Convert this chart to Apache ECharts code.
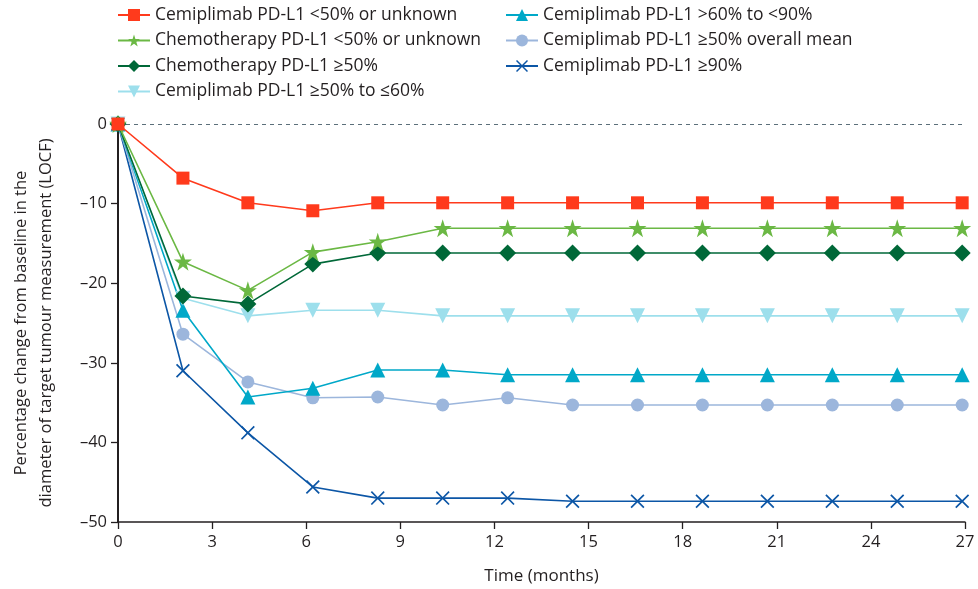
<!DOCTYPE html>
<html>
<head>
<meta charset="utf-8">
<script src="https://cdn.jsdelivr.net/npm/echarts@6/dist/echarts.min.js"></script>
<style>html,body{margin:0;padding:0;background:#fff}#c{width:978px;height:589px}</style>
</head>
<body>
<div id="c"></div>
<script>
var months = [0, 2.07, 4.14, 6.21, 8.28, 10.35, 12.42, 14.49, 16.56, 18.63, 20.7, 22.77, 24.84, 26.91];
var xTicks = [0, 3, 6, 9, 12, 15, 18, 21, 24, 27];
var yTicks = [0, -10, -20, -30, -40, -50];

var cemiLow = [0, -6.8, -9.9, -10.9, -9.9, -9.9, -9.9, -9.9, -9.9, -9.9, -9.9, -9.9, -9.9, -9.9];
var chemoLow = [0, -17.3, -20.9, -16.1, -14.8, -13.1, -13.1, -13.1, -13.1, -13.1, -13.1, -13.1, -13.1, -13.1];
var chemoHigh = [0, -21.6, -22.6, -17.6, -16.2, -16.2, -16.2, -16.2, -16.2, -16.2, -16.2, -16.2, -16.2, -16.2];
var cemi50to60 = [0, -21.9, -24.1, -23.4, -23.4, -24.1, -24.1, -24.1, -24.1, -24.1, -24.1, -24.1, -24.1, -24.1];
var cemi60to90 = [0, -23.4, -34.3, -33.2, -30.9, -30.9, -31.5, -31.5, -31.5, -31.5, -31.5, -31.5, -31.5, -31.5];
var cemiMean = [0, -26.4, -32.4, -34.4, -34.3, -35.3, -34.4, -35.3, -35.3, -35.3, -35.3, -35.3, -35.3, -35.3];
var cemi90 = [0, -31.0, -38.8, -45.6, -47.0, -47.0, -47.0, -47.4, -47.4, -47.4, -47.4, -47.4, -47.4, -47.4];

var names = [
  'Cemiplimab PD-L1 <50% or unknown',
  'Chemotherapy PD-L1 <50% or unknown',
  'Chemotherapy PD-L1 ≥50%',
  'Cemiplimab PD-L1 ≥50% to ≤60%',
  'Cemiplimab PD-L1 >60% to <90%',
  'Cemiplimab PD-L1 ≥50% overall mean',
  'Cemiplimab PD-L1 ≥90%'
];

var starPath = 'path://M50,0 L61.8,35.4 L100,35.4 L69.1,57.3 L80.9,93.5 L50,71.5 L19.1,93.5 L30.9,57.3 L0,35.4 L38.2,35.4 Z';
var crossPath = 'path://M0,1.2 L1.2,0 L7,5.8 L12.8,0 L14,1.2 L8.2,7 L14,12.8 L12.8,14 L7,8.2 L1.2,14 L0,12.8 L5.8,7 Z';

function pairs(arr){ return arr.map(function(v,i){ return [months[i], v]; }); }

var defs = [
  {data: cemiLow, color: '#ff3a1c', symbol: 'rect', size: 13},
  {data: chemoLow, color: '#6bb844', symbol: starPath, size: 18},
  {data: chemoHigh, color: '#006838', symbol: 'diamond', size: 17},
  {data: cemi50to60, color: '#9ddfec', symbol: 'triangle', size: 15, rotate: 180},
  {data: cemi60to90, color: '#00a8c8', symbol: 'triangle', size: 15},
  {data: cemiMean, color: '#9cb6dc', symbol: 'circle', size: 13},
  {data: cemi90, color: '#0c56a6', symbol: crossPath, size: 14}
];

var series = defs.map(function(d, i){
  return {
    name: names[i], type: 'line', data: pairs(d.data),
    symbol: d.symbol, symbolSize: d.size, symbolRotate: d.rotate || 0,
    showAllSymbol: true,
    itemStyle: {color: d.color},
    lineStyle: {color: d.color, width: 1.6},
    z: 10 - i,
    animation: false
  };
});
series[0].markLine = {
  silent: true, symbol: ['none','none'], label: {show: false},
  lineStyle: {type: [4, 4], color: '#5b6f7a', width: 1.2},
  data: [{yAxis: 0}]
};

var fontFam = '"Open Sans", "Noto Sans", sans-serif';
var legendCommon = {
  orient: 'vertical', top: 1,
  itemWidth: 32, itemHeight: 15, itemGap: 7.5,
  textStyle: {fontSize: 17.5, color: '#231f20', fontFamily: fontFam, padding: [0, 0, 0, 0]}
};

var chart = echarts.init(document.getElementById('c'), null, {renderer: 'canvas'});
chart.setOption({
  animation: false,
  textStyle: {fontFamily: fontFam},
  legend: [
    Object.assign({data: names.slice(0, 4), left: 112}, legendCommon),
    Object.assign({data: names.slice(4), left: 500}, legendCommon)
  ],
  grid: {left: 118, right: 13, top: 124, bottom: 67, containLabel: false, outerBoundsMode: 'none'},
  xAxis: {
    type: 'value', min: 0, max: 27, interval: 3,
    name: 'Time (months)', nameLocation: 'middle', nameGap: 46,
    nameTextStyle: {fontSize: 17, color: '#231f20'},
    axisLine: {show: true, onZero: false, lineStyle: {color: '#231f20', width: 1.5}},
    axisTick: {show: true, length: 7, lineStyle: {color: '#231f20', width: 1.3}},
    axisLabel: {fontSize: 16.5, color: '#231f20', margin: 12},
    splitLine: {show: false}
  },
  yAxis: {
    type: 'value', min: -50, max: 0, interval: 10,
    name: 'Percentage change from baseline in the\ndiameter of target tumour measurement (LOCF)',
    nameLocation: 'middle', nameGap: 59, nameRotate: 90,
    nameTextStyle: {fontSize: 16.5, color: '#231f20', lineHeight: 25},
    axisLine: {show: true, onZero: false, lineStyle: {color: '#231f20', width: 2}},
    axisTick: {show: true, length: 7, lineStyle: {color: '#231f20', width: 1.3}},
    axisLabel: {fontSize: 16.5, color: '#231f20', margin: 11,
      formatter: function(v){ return String(v).replace('-', '–'); }},
    splitLine: {show: false}
  },
  series: series
});
</script>
</body>
</html>
